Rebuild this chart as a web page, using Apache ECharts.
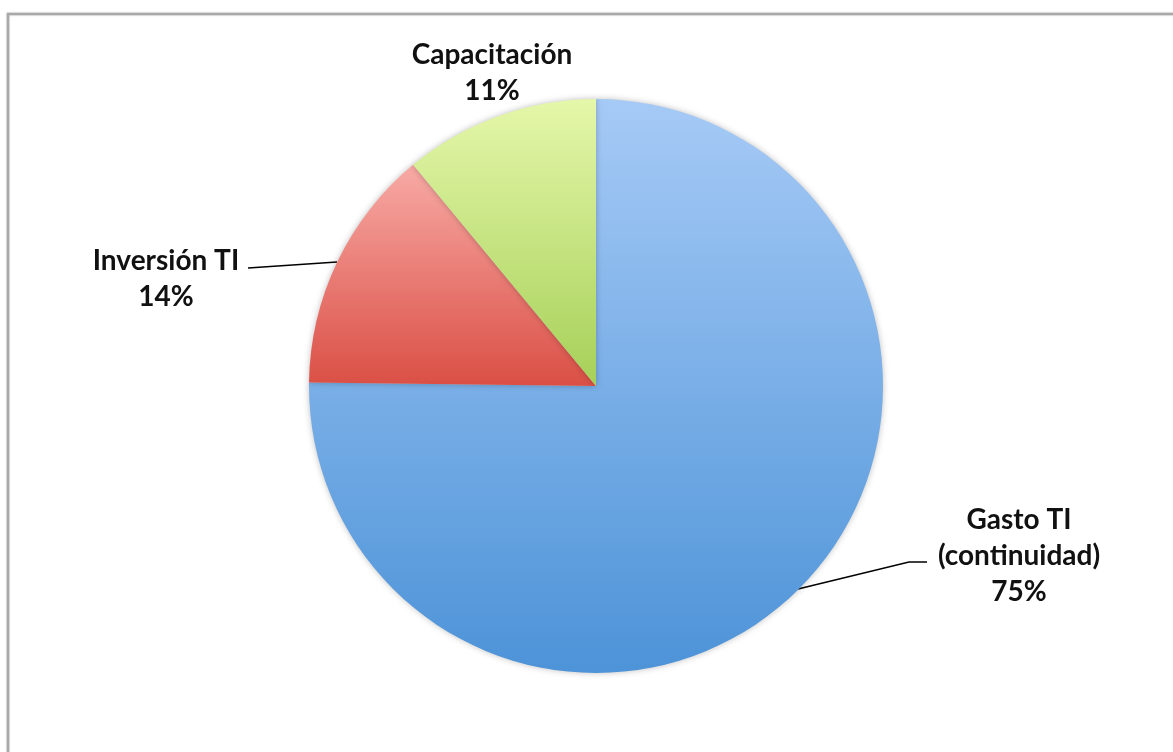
<!DOCTYPE html>
<html><head><meta charset="utf-8">
<script src="https://cdn.jsdelivr.net/npm/echarts@6/dist/echarts.min.js"></script>
<style>html,body{margin:0;padding:0;background:#fff}#c{width:1173px;height:752px}</style>
</head><body><div id="c"></div>
<script>
const categories = ['Gasto TI (continuidad)', 'Inversión TI', 'Capacitación'];
const values = [75.2, 13.8, 11.0];
const topColors = ['#a6caf6', '#f8aaa5', '#e5f7aa'];
const bottomColors = ['#4d93d8', '#da4f45', '#a6d058'];

const chart = echarts.init(document.getElementById('c'), null, {renderer: 'canvas'});
const labelSpots = [
  {x: 1019, y: 556, line: [[798, 589], [909, 562], [927, 562]]},
  {x: 166, y: 279, line: [[248, 268], [337, 262]]},
  {x: 492, y: 73, line: null}
];
chart.setOption({
  backgroundColor: '#ffffff',
  animation: false,
  graphic: [{
    type: 'polyline', shape: {points: [[8, 900], [8, 14], [1300, 14]]},
    style: {fill: 'none', stroke: '#a8a8a8', lineWidth: 2.5,
      shadowBlur: 2, shadowColor: 'rgba(0,0,0,0.2)'},
    silent: true, z: -1
  }],
  series: [{
    type: 'pie',
    center: [596, 386],
    radius: 287,
    startAngle: 90,
    clockwise: true,
    data: categories.map((n, i) => ({
      name: n, value: values[i],
      labelLine: {show: labelSpots[i].line !== null},
      itemStyle: {
        color: new echarts.graphic.LinearGradient(0, 0, 0, 1, [
          {offset: 0, color: topColors[i]}, {offset: 1, color: bottomColors[i]}
        ])
      }
    })),
    itemStyle: {borderWidth: 0, shadowBlur: 6, shadowColor: 'rgba(0,0,0,0.25)'},
    label: {
      show: true,
      position: 'outside',
      formatter: p => p.name.replace(' (', '\n(') + '\n' + Math.round(p.percent) + '%',
      fontFamily: 'Lato',
      fontWeight: 'bold',
      fontSize: 28,
      lineHeight: 36,
      color: '#111',
      align: 'center'
    },
    labelLine: {show: true, lineStyle: {color: '#000', width: 1.5}},
    labelLayout: function (params) {
      const s = labelSpots[params.dataIndex];
      const r = {x: s.x, y: s.y, align: 'center', verticalAlign: 'middle'};
      if (s.line) r.labelLinePoints = s.line;
      return r;
    }
  }]
});
</script></body></html>
